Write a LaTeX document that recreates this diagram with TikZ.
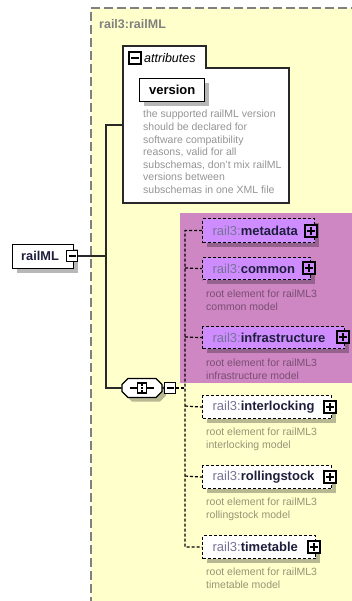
\documentclass[tikz,border=0pt]{standalone}
\usepackage{fontspec}
\setmainfont{Liberation Sans}
\usetikzlibrary{shadows}
\definecolor{yel}{RGB}{255,255,204}
\definecolor{purpbg}{RGB}{207,135,196}
\definecolor{elemp}{RGB}{206,140,255}
\definecolor{pref}{RGB}{120,115,150}
\definecolor{nm}{RGB}{30,30,60}
\definecolor{bordgray}{RGB}{128,128,128}
\definecolor{linegray}{RGB}{40,40,40}
\newcommand\nmfont{\fontsize{13}{15}\selectfont}
\newcommand\dsfont{\fontsize{10.5}{12.6}\selectfont}
\begin{document}
\begin{tikzpicture}[x=1pt,y=-1pt,
  shad/.style={drop shadow={shadow xshift=4.5pt,shadow yshift=-4.5pt,fill=black,opacity=0.28}},
  elem/.style={draw=black, line width=1.2pt, dash pattern=on 3pt off 2pt, anchor=north west,
    inner xsep=10pt, inner ysep=0pt, align=left, shad, font=\nmfont},
  desc/.style={anchor=north west, inner sep=0pt, align=left, font=\dsfont, text=black, text opacity=0.42},
  pbox/.style={draw=black, solid, line width=1.5pt, minimum size=12pt, inner sep=0pt,
    path picture={\draw[line width=1.1pt] ([xshift=2.3pt]path picture bounding box.west) -- ([xshift=-2.3pt]path picture bounding box.east)
      ([yshift=-2.3pt]path picture bounding box.north) -- ([yshift=2.3pt]path picture bounding box.south);}},
  mbox/.style={draw=black, solid, line width=1.5pt, minimum size=11pt, inner sep=0pt, fill=white,
    path picture={\draw[line width=1.1pt] ([xshift=2pt]path picture bounding box.west) -- ([xshift=-2pt]path picture bounding box.east);}},
  conn/.style={draw=linegray, line width=1.3pt},
  dconn/.style={draw=black, line width=1.2pt, dash pattern=on 3pt off 2pt}
]
\useasboundingbox (0,0) rectangle (352,601);
% outer yellow area
\fill[yel] (91,8) rectangle (360,610);
\draw[bordgray, line width=1.3pt, dash pattern=on 9pt off 4pt] (360,8) -- (91,8) -- (91,610);
\node[anchor=west, inner sep=0pt, font=\fontsize{12.5}{15}\selectfont\bfseries, text=bordgray] (title) at (99,24) {rail3:railML};

% purple highlight region
\fill[purpbg] (180,213) rectangle (352,383);

% attributes box
\draw[fill=white, draw=linegray, line width=1.3pt] (123,203) -- (123,46) -- (206,46) -- (206,68) -- (289,68) -- (289,203) -- cycle;
\coordinate (attr) at (123,125);
\node[mbox, minimum size=12pt] (attrm) at (135,58) {};
\node[anchor=west, inner sep=0pt, font=\fontsize{12.5}{15}\selectfont\itshape] (attrlbl) at (144,58) {attributes};
\node[draw=black, line width=1.4pt, fill=white, shad, minimum width=65pt, minimum height=23pt, anchor=north west, inner sep=0pt, font=\fontsize{13}{15}\selectfont\bfseries] (version) at (139,78) {version};
\node[desc] (verdesc) at (143,110) {the supported railML version\\should be declared for\\software compatibility\\reasons, valid for all\\subschemas, don't mix railML\\versions between\\subschemas in one XML file};

% root node
\node[draw=black, line width=1.3pt, fill=white, shad, minimum width=61pt, minimum height=24pt, anchor=north west, inner sep=0pt] (root) at (12,244) {};
\node[anchor=west, inner sep=0pt, font=\fontsize{12.8}{15}\selectfont\bfseries, text=nm] (rootlbl) at (21,256) {railML};
\node[mbox] (rootm) at (72,256) {};

% sequence compositor
\node[minimum width=40pt, minimum height=19pt, inner sep=0pt] (seq) at (142,388) {};
\fill[black, opacity=0.28] (132,401.5) -- (160,401.5) -- (166,395.5) -- (166,388.5) -- (160,382.5) -- (132,382.5) -- (126,388.5) -- (126,395.5) -- cycle;
\draw[black, line width=1.3pt, fill=white] (128,378.5) -- (156,378.5) -- (162,384.5) -- (162,391.5) -- (156,397.5) -- (128,397.5) -- (122,391.5) -- (122,384.5) -- cycle;
\draw[line width=1.1pt] (130,388) -- (154,388);
\draw[line width=1.1pt, fill=white] (137.5,383) rectangle (146.5,393);
\foreach \yy in {384.5,388,391.5}
  \fill (140.8,\yy-1.3) rectangle (143.2,\yy+1.3);
\node[mbox] (seqm) at (170,388) {};

% solid connectors
\draw[conn] (rootm.east) -- (106,256);
\draw[conn] (attr) -| (106,388) -- (seq.west);
\draw[conn] (seq.east) -- (seqm.west);

% elements
\node[elem, fill=elemp, minimum width=112pt, minimum height=24pt, text width=92pt] (metadata) at (202,218) {{\color{pref}rail3:}\textcolor{nm}{\textbf{metadata}}};
\node[pbox, fill=elemp] (metadatap) at (311,231) {};

\node[elem, fill=elemp, minimum width=108pt, minimum height=22pt, text width=88pt] (common) at (202,257) {{\color{pref}rail3:}\textcolor{nm}{\textbf{common}}};
\node[pbox, fill=elemp] (commonp) at (309,268) {};
\node[desc] (commond) at (206,290) {root element for railML3\\common model};

\node[elem, fill=elemp, minimum width=142pt, minimum height=22pt, text width=122pt] (infra) at (202,326) {{\color{pref}rail3:}\textcolor{nm}{\textbf{infrastructure}}};
\node[pbox, fill=elemp] (infrap) at (343,337) {};
\node[desc] (infrad) at (206,359) {root element for railML3\\infrastructure model};

\node[elem, fill=white, minimum width=129pt, minimum height=23pt, text width=109pt] (interl) at (202,395) {{\color{pref}rail3:}\textcolor{nm}{\textbf{interlocking}}};
\node[pbox, fill=white] (interlp) at (330,407) {};
\node[desc] (interld) at (206,428) {root element for railML3\\interlocking model};

\node[elem, fill=white, minimum width=129pt, minimum height=23pt, text width=109pt] (rolling) at (202,465) {{\color{pref}rail3:}\textcolor{nm}{\textbf{rollingstock}}};
\node[pbox, fill=white] (rollingp) at (330,477) {};
\node[desc] (rollingd) at (206,498) {root element for railML3\\rollingstock model};

\node[elem, fill=white, minimum width=113pt, minimum height=23pt, text width=93pt] (timet) at (202,535) {{\color{pref}rail3:}\textcolor{nm}{\textbf{timetable}}};
\node[pbox, fill=white] (timetp) at (314,547) {};
\node[desc] (timetd) at (206,568) {root element for railML3\\timetable model};

% dashed connectors
\draw[dconn] (seqm.east) -- (185,388);
\draw[dconn] (metadata.west) -| (185,547) -- (timet.west);
\draw[dconn] (185,268) -- (common.west);
\draw[dconn] (185,337) -- (infra.west);
\draw[dconn] (185,406) -- (interl.west);
\draw[dconn] (185,476) -- (rolling.west);
\end{tikzpicture}
\end{document}
